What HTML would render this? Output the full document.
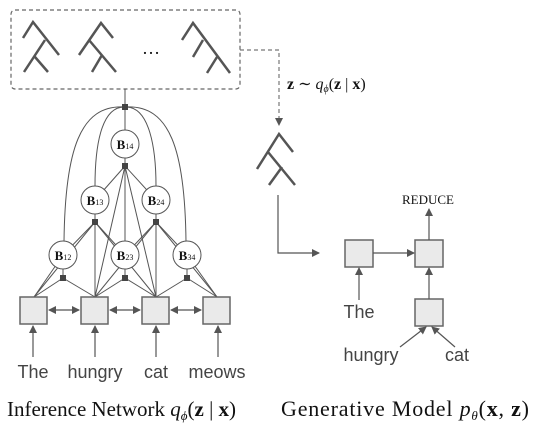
<!DOCTYPE html>
<html><head><meta charset="utf-8"><style>
html,body{margin:0;padding:0;background:#fff;}
svg{display:block;}
.s{font-family:"Liberation Sans",sans-serif;fill:#444;}
.r{font-family:"Liberation Serif",serif;fill:#111;}
</style></head><body>
<svg width="539" height="440" viewBox="0 0 539 440" xmlns="http://www.w3.org/2000/svg">
<defs>
<marker id="a" markerWidth="8" markerHeight="8" refX="7" refY="4" orient="auto" markerUnits="userSpaceOnUse"><path d="M0,0 L8,4 L0,8 z" fill="#555"/></marker>
<marker id="b" markerWidth="8" markerHeight="8" refX="1" refY="4" orient="auto" markerUnits="userSpaceOnUse"><path d="M8,0 L0,4 L8,8 z" fill="#555"/></marker>
</defs>
<rect x="11" y="10" width="229" height="79" rx="4" fill="none" stroke="#666" stroke-width="1.2" stroke-dasharray="4,3"/>
<g stroke="#555" stroke-width="2.5" fill="none">
<path d="M23,38 L33,22 L59,55 M45,40 L24,72 M35,57 L48,72"/>
<path d="M79,55 L101,23 L113,38 M89,40 L116,72 M102,55 L92,72"/>
<path d="M182,40 L193,23 L230,73 M203,40 L193,57 M217,57 L207,73"/>
<path d="M257,169 L279,134 L293,152 M268,152 L295,185 M282,167 L269,185"/>
</g>
<text x="151" y="54" class="r" font-size="18" text-anchor="middle">…</text>
<path d="M240,50 H279 V122" fill="none" stroke="#777" stroke-width="1.2" stroke-dasharray="4,3"/>
<path d="M275,118 L279,126 L283,118 z" fill="#555"/>
<text x="287" y="89" class="r" font-size="16" font-weight="bold">z <tspan font-weight="normal">∼ <tspan font-style="italic">q</tspan><tspan font-size="10" dy="3" font-style="italic">ϕ</tspan><tspan dy="-3">(</tspan></tspan>z<tspan font-weight="normal"> | </tspan>x<tspan font-weight="normal">)</tspan></text>
<g stroke="#555" stroke-width="1" fill="none">
<line x1="125" y1="89" x2="125" y2="130"/>
<path d="M125,107 C80,104 65,150 64,242"/>
<path d="M125,107 C170,104 185,150 186,242"/>
<path d="M125,107 C100,106 95,150 95,186"/>
<path d="M125,107 C150,106 156,150 156,186"/>
<line x1="125" y1="158" x2="125" y2="241"/>
<line x1="125" y1="166" x2="95" y2="200"/><line x1="125" y1="166" x2="156" y2="200"/>
<line x1="125" y1="166" x2="95" y2="297"/><line x1="125" y1="166" x2="156" y2="297"/>
<line x1="95" y1="214" x2="95" y2="297"/><line x1="156" y1="214" x2="156" y2="297"/>
<line x1="95" y1="222" x2="63" y2="255"/><line x1="95" y1="222" x2="125" y2="255"/>
<line x1="95" y1="222" x2="34" y2="297"/><line x1="95" y1="222" x2="156" y2="297"/>
<line x1="156" y1="222" x2="187" y2="255"/><line x1="156" y1="222" x2="125" y2="255"/>
<line x1="156" y1="222" x2="217" y2="297"/><line x1="156" y1="222" x2="95" y2="297"/>
<line x1="63" y1="255" x2="63" y2="278"/><line x1="125" y1="255" x2="125" y2="278"/><line x1="187" y1="255" x2="187" y2="278"/>
<line x1="63" y1="278" x2="34" y2="297"/><line x1="63" y1="278" x2="95" y2="297"/>
<line x1="125" y1="278" x2="95" y2="297"/><line x1="125" y1="278" x2="156" y2="297"/>
<line x1="187" y1="278" x2="156" y2="297"/><line x1="187" y1="278" x2="217" y2="297"/>
<line x1="63" y1="255" x2="34" y2="297"/>
<line x1="187" y1="255" x2="217" y2="297"/>
</g>
<g fill="#444">
<rect x="122" y="104" width="6" height="6"/><rect x="122" y="163" width="6" height="6"/>
<rect x="92" y="219" width="6" height="6"/><rect x="153" y="219" width="6" height="6"/>
<rect x="60" y="275" width="6" height="6"/><rect x="122" y="275" width="6" height="6"/><rect x="184" y="275" width="6" height="6"/>
</g>
<g fill="#fff" stroke="#555" stroke-width="1">
<circle cx="125" cy="144" r="14"/><circle cx="95" cy="200" r="14"/><circle cx="156" cy="200" r="14"/>
<circle cx="63" cy="255" r="14"/><circle cx="125" cy="255" r="14"/><circle cx="187" cy="255" r="14"/>
</g>
<g class="r" font-size="13" font-weight="bold" text-anchor="middle">
<text x="125" y="149">B<tspan font-size="8" font-weight="normal">14</tspan></text>
<text x="95" y="205">B<tspan font-size="8" font-weight="normal">13</tspan></text>
<text x="156" y="205">B<tspan font-size="8" font-weight="normal">24</tspan></text>
<text x="63" y="260">B<tspan font-size="8" font-weight="normal">12</tspan></text>
<text x="125" y="260">B<tspan font-size="8" font-weight="normal">23</tspan></text>
<text x="187" y="260">B<tspan font-size="8" font-weight="normal">34</tspan></text>
</g>
<g fill="#eaeaea" stroke="#666" stroke-width="1.5">
<rect x="20" y="297" width="27" height="27"/><rect x="81" y="297" width="27" height="27"/>
<rect x="142" y="297" width="27" height="27"/><rect x="203" y="297" width="27" height="27"/>
<rect x="345" y="240" width="28" height="27"/><rect x="415" y="240" width="28" height="27"/><rect x="415" y="299" width="28" height="27"/>
</g>
<g stroke="#555" stroke-width="1.2" fill="none">
<line x1="49" y1="310" x2="79" y2="310" marker-start="url(#b)" marker-end="url(#a)"/>
<line x1="110" y1="310" x2="140" y2="310" marker-start="url(#b)" marker-end="url(#a)"/>
<line x1="171" y1="310" x2="201" y2="310" marker-start="url(#b)" marker-end="url(#a)"/>
<line x1="33" y1="357" x2="33" y2="326" marker-end="url(#a)"/>
<line x1="95" y1="357" x2="95" y2="326" marker-end="url(#a)"/>
<line x1="156" y1="357" x2="156" y2="326" marker-end="url(#a)"/>
<line x1="218" y1="357" x2="218" y2="326" marker-end="url(#a)"/>
<path d="M278,195 V253 H319" marker-end="url(#a)"/>
<line x1="373" y1="253" x2="414" y2="253" marker-end="url(#a)"/>
<line x1="429" y1="240" x2="429" y2="209" marker-end="url(#a)"/>
<line x1="429" y1="299" x2="429" y2="268" marker-end="url(#a)"/>
<line x1="359" y1="300" x2="359" y2="268" marker-end="url(#a)"/>
<line x1="400" y1="347" x2="426" y2="327" marker-end="url(#a)"/>
<line x1="455" y1="347" x2="432" y2="327" marker-end="url(#a)"/>
</g>
<g class="s" font-size="18" text-anchor="middle">
<text x="33" y="378">The</text><text x="95" y="378">hungry</text><text x="156" y="378">cat</text><text x="217" y="378">meows</text>
<text x="359" y="318">The</text><text x="371" y="361">hungry</text><text x="457" y="361">cat</text>
</g>
<text x="428" y="204" class="r" font-size="13" text-anchor="middle">REDUCE</text>
<text x="7" y="416" class="r" font-size="21">Inference Network <tspan font-style="italic">q</tspan><tspan font-size="13" dy="4" font-style="italic">ϕ</tspan><tspan dy="-4">(</tspan><tspan font-weight="bold">z</tspan> | <tspan font-weight="bold">x</tspan>)</text>
<text x="281" y="416" class="r" font-size="22" textLength="248" lengthAdjust="spacing">Generative Model <tspan font-style="italic">p</tspan><tspan font-size="13" dy="4" font-style="italic">θ</tspan><tspan dy="-4">(</tspan><tspan font-weight="bold">x</tspan>, <tspan font-weight="bold">z</tspan>)</text>
</svg>
</body></html>
